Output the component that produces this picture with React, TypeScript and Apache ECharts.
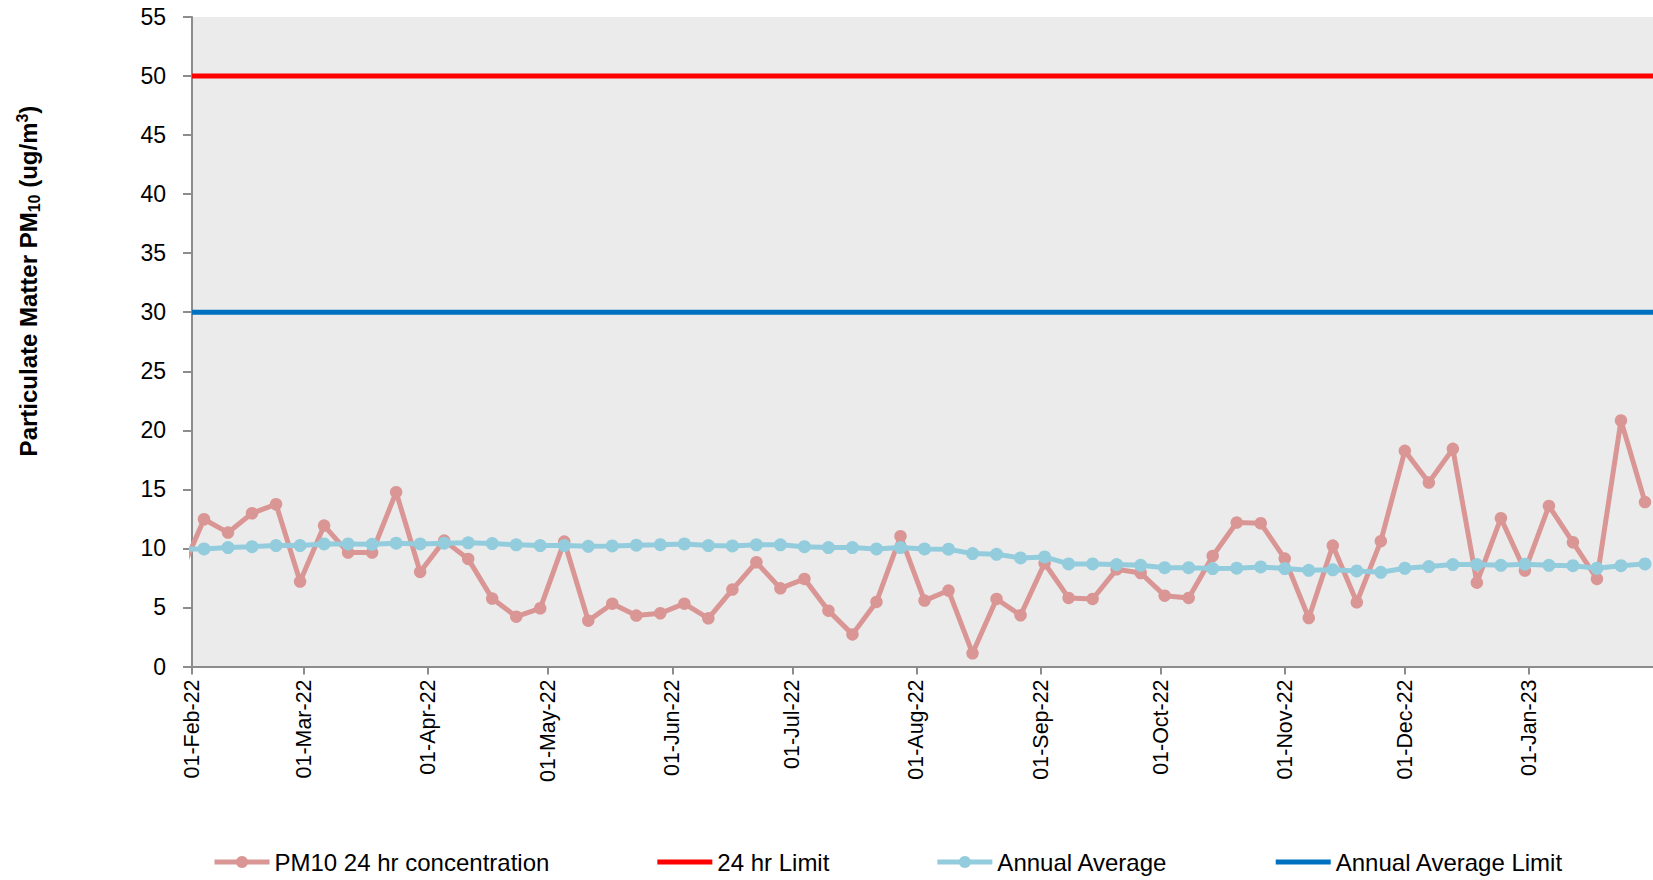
import React, { useEffect, useRef } from "react";
import * as echarts from "echarts";

const sampleDates = [
  "2022-01-29", "2022-02-04", "2022-02-10", "2022-02-16", "2022-02-22", "2022-02-28",
  "2022-03-06", "2022-03-12", "2022-03-18", "2022-03-24", "2022-03-30",
  "2022-04-05", "2022-04-11", "2022-04-17", "2022-04-23", "2022-04-29",
  "2022-05-05", "2022-05-11", "2022-05-17", "2022-05-23", "2022-05-29",
  "2022-06-04", "2022-06-10", "2022-06-16", "2022-06-22", "2022-06-28",
  "2022-07-04", "2022-07-10", "2022-07-16", "2022-07-22", "2022-07-28",
  "2022-08-03", "2022-08-09", "2022-08-15", "2022-08-21", "2022-08-27",
  "2022-09-02", "2022-09-08", "2022-09-14", "2022-09-20", "2022-09-26",
  "2022-10-02", "2022-10-08", "2022-10-14", "2022-10-20", "2022-10-26",
  "2022-11-01", "2022-11-07", "2022-11-13", "2022-11-19", "2022-11-25",
  "2022-12-01", "2022-12-07", "2022-12-13", "2022-12-19", "2022-12-25", "2022-12-31",
  "2023-01-06", "2023-01-12", "2023-01-18", "2023-01-24", "2023-01-30",
];

const pm10Values = [
  7.8,
  12.47, 11.34, 12.98, 13.74, 7.19, 11.93, 9.65, 9.65, 14.76, 8.01,
  10.66, 9.11, 5.75, 4.22, 4.93, 10.58, 3.88, 5.32, 4.31, 4.51,
  5.32, 4.08, 6.51, 8.83, 6.62, 7.42, 4.73, 2.72, 5.47, 11.03,
  5.58, 6.43, 1.12, 5.72, 4.34, 8.74, 5.81, 5.72, 8.23, 7.92,
  6.0, 5.81, 9.36, 12.19, 12.13, 9.14, 4.11, 10.24, 5.44, 10.61,
  18.26, 15.58, 18.43, 7.1, 12.56, 8.12, 13.6, 10.52, 7.42, 20.83, 13.92,
];

const annualAverageValues = [
  9.95,
  9.96, 10.07, 10.15, 10.24, 10.24, 10.38, 10.38, 10.35, 10.44, 10.38,
  10.44, 10.47, 10.41, 10.3, 10.24, 10.24, 10.18, 10.21, 10.27, 10.32,
  10.38, 10.24, 10.21, 10.3, 10.3, 10.15, 10.07, 10.07, 9.96, 10.07,
  9.96, 9.93, 9.56, 9.5, 9.19, 9.28, 8.69, 8.69, 8.63, 8.57,
  8.37, 8.37, 8.29, 8.33, 8.43, 8.29, 8.15, 8.19, 8.09, 7.98,
  8.32, 8.46, 8.63, 8.63, 8.57, 8.66, 8.57, 8.54, 8.32, 8.54, 8.69,
];

const limit24hr = 50;
const annualAverageLimit = 30;

const axisStart = "2022-02-01";
const axisEnd = "2023-02-01";

const tickDates = [
  "2022-02-01", "2022-03-01", "2022-04-01", "2022-05-01", "2022-06-01", "2022-07-01",
  "2022-08-01", "2022-09-01", "2022-10-01", "2022-11-01", "2022-12-01", "2023-01-01",
];
const tickLabels = [
  "01-Feb-22", "01-Mar-22", "01-Apr-22", "01-May-22", "01-Jun-22", "01-Jul-22",
  "01-Aug-22", "01-Sep-22", "01-Oct-22", "01-Nov-22", "01-Dec-22", "01-Jan-23",
];

const seriesNames = [
  "PM10 24 hr concentration",
  "24 hr Limit",
  "Annual Average",
  "Annual Average Limit",
];

function ts(s: string): number {
  const [y, m, d] = s.split("-").map(Number);
  return new Date(y, m - 1, d).getTime();
}

function fitFontSize(text: string, family: string, target: number, base: number): number {
  const ctx = document.createElement("canvas").getContext("2d");
  if (!ctx) return base;
  ctx.font = `${base}px ${family}`;
  const w = ctx.measureText(text).width;
  if (!w) return base;
  return (base * target) / w;
}

export default function App() {
  const ref = useRef<HTMLDivElement>(null);

  useEffect(() => {
    if (!ref.current) return;
    const chart = echarts.init(ref.current, undefined, { renderer: "svg" });

    const xMin = ts(axisStart);
    const xMax = ts(axisEnd);
    const tickTs = tickDates.map(ts);
    const labelMap: Record<number, string> = {};
    tickTs.forEach((t, i) => (labelMap[t] = tickLabels[i]));

    const narrowFamily = "'Liberation Sans Narrow', 'Arial Narrow', 'Liberation Sans', Arial, sans-serif";
    const xFont = Math.min(24, fitFontSize("01-Feb-22", narrowFamily, 99, 22));
    const mainFamily = "'Liberation Sans', Arial, sans-serif";

    const pm = sampleDates.map((d, i) => [ts(d), pm10Values[i]]);
    const avg = sampleDates.map((d, i) => [ts(d), annualAverageValues[i]]);

    chart.setOption({
      animation: false,
      backgroundColor: "#ffffff",
      grid: {
        left: 192,
        right: 0,
        top: 17,
        bottom: 213.5,
        show: true,
        backgroundColor: "#EBEBEB",
        borderWidth: 0,
        containLabel: false,
        outerBoundsMode: "none",
      },
      legend: {
        left: 207,
        top: 845,
        itemWidth: 55,
        itemHeight: 15,
        itemGap: 105.5,
        lineStyle: { width: "inherit" },
        textStyle: { fontFamily: mainFamily, fontSize: 24, color: "#000" },
        data: [
          { name: seriesNames[0] },
          { name: seriesNames[1], itemStyle: { color: "rgba(0,0,0,0)", borderWidth: 0 } },
          { name: seriesNames[2] },
          { name: seriesNames[3], itemStyle: { color: "rgba(0,0,0,0)", borderWidth: 0 } },
        ],
      },
      xAxis: {
        type: "value",
        min: xMin,
        max: xMax,
        splitLine: { show: false },
        axisLine: { show: true, lineStyle: { color: "#8C8C8C", width: 2 } },
        axisTick: {
          show: true,
          length: 8,
          lineStyle: { color: "#8C8C8C", width: 2 },
          customValues: tickTs,
        },
        axisLabel: {
          customValues: tickTs,
          rotate: 90,
          margin: 13,
          fontFamily: narrowFamily,
          fontSize: xFont,
          color: "#000",
          formatter: (v: number) => labelMap[v] ?? "",
        },
      },
      yAxis: {
        type: "value",
        min: 0,
        max: 55,
        interval: 5,
        splitLine: { show: false },
        axisLine: { show: true, lineStyle: { color: "#8C8C8C", width: 2 } },
        axisTick: { show: true, length: 9, lineStyle: { color: "#8C8C8C", width: 2 } },
        axisLabel: {
          margin: 26,
          fontFamily: mainFamily,
          fontSize: 23,
          color: "#000",
        },
      },
      graphic: [
        {
          type: "text",
          x: 28,
          y: 281,
          rotation: Math.PI / 2,
          style: {
            text: "{a|Particulate Matter PM}{sub|10}{a| (ug/m}{sup|3}{a|)}",
            align: "center",
            verticalAlign: "middle",
            fill: "#000",
            rich: {
              a: { fontFamily: mainFamily, fontWeight: "bold", fontSize: 24, lineHeight: 28, fill: "#000" },
              sub: { fontFamily: mainFamily, fontWeight: "bold", fontSize: 16, lineHeight: 16, verticalAlign: "bottom", fill: "#000" },
              sup: { fontFamily: mainFamily, fontWeight: "bold", fontSize: 16, lineHeight: 16, verticalAlign: "top", fill: "#000" },
            },
          },
        },
      ],
      series: [
        {
          name: seriesNames[0],
          type: "line",
          data: pm,
          clip: true,
          symbol: "circle",
          symbolSize: 12.5,
          itemStyle: { color: "#D99694" },
          lineStyle: { color: "#D99694", width: 5 },
          z: 2,
        },
        {
          name: seriesNames[1],
          type: "line",
          data: [[xMin, limit24hr], [xMax, limit24hr]],
          symbol: "none",
          itemStyle: { color: "#FF0000" },
          lineStyle: { color: "#FF0000", width: 5 },
          z: 3,
        },
        {
          name: seriesNames[2],
          type: "line",
          data: avg,
          clip: true,
          symbol: "circle",
          symbolSize: 13,
          itemStyle: { color: "#93CDDD" },
          lineStyle: { color: "#93CDDD", width: 5 },
          z: 4,
        },
        {
          name: seriesNames[3],
          type: "line",
          data: [[xMin, annualAverageLimit], [xMax, annualAverageLimit]],
          symbol: "none",
          itemStyle: { color: "#0070C0" },
          lineStyle: { color: "#0070C0", width: 5 },
          z: 5,
        },
      ],
    });

    return () => chart.dispose();
  }, []);

  return (
    <div
      ref={ref}
      style={{ position: "fixed", left: 0, top: 0, width: 1653, height: 880 }}
    />
  );
}
